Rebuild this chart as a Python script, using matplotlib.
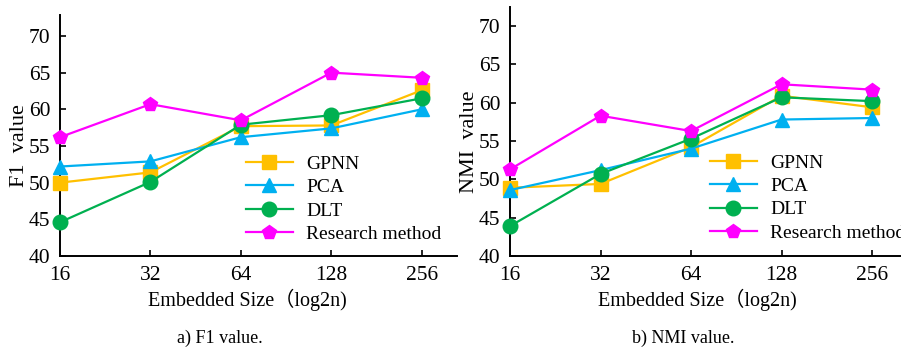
import matplotlib.pyplot as plt

# data
sizes = ["16", "32", "64", "128", "256"]
methods = ["GPNN", "PCA", "DLT", "Research method"]

f1_gpnn = [50.0, 51.4, 57.7, 57.8, 62.6]
f1_pca = [52.2, 52.9, 56.2, 57.4, 60.0]
f1_dlt = [44.6, 50.1, 57.9, 59.2, 61.5]
f1_research = [56.2, 60.7, 58.5, 65.0, 64.3]

nmi_gpnn = [48.9, 49.4, 54.2, 60.9, 59.4]
nmi_pca = [48.6, 51.2, 54.0, 57.8, 58.0]
nmi_dlt = [43.9, 50.7, 55.3, 60.7, 60.2]
nmi_research = [51.3, 58.3, 56.3, 62.4, 61.7]

couleurs = ["#FFC000", "#00B0F0", "#00B050", "#FF00FF"]
marqueurs = ["s", "^", "o", "p"]

plt.rcParams['font.family'] = ['Liberation Serif', 'Noto Sans CJK SC']

W, H = 901, 349
fig = plt.figure(figsize=(9.01, 3.49), dpi=100)


def panneau(rect, series, ylim, xmax, ylabel, label_xy, legend_xy, caption_xy, caption):
    ax = fig.add_axes(rect)
    x = list(range(len(sizes)))
    for vals, nom, c, m in zip(series, methods, couleurs, marqueurs):
        ax.plot(x, vals, color=c, marker=m, markersize=10.5, linewidth=1.6,
                label=nom, clip_on=False, zorder=3)
    ax.set_xlim(0, xmax)
    ax.set_ylim(*ylim)
    ax.set_xticks(x)
    ax.set_xticklabels(sizes)
    ax.set_yticks([40, 45, 50, 55, 60, 65, 70])
    for s in ["top", "right"]:
        ax.spines[s].set_visible(False)
    for s in ["left", "bottom"]:
        ax.spines[s].set_linewidth(1.4)
    ax.tick_params(direction="in", length=4, width=1.2, labelsize=15.5, pad=7)
    ax.set_xlabel("Embedded Size（log2n)", fontsize=14.5)
    ax.xaxis.set_label_coords(label_xy[0][0] / W, 1 - label_xy[0][1] / H,
                              transform=fig.transFigure)
    ax.set_ylabel(ylabel, fontsize=16)
    ax.yaxis.set_label_coords(label_xy[1][0] / W, 1 - label_xy[1][1] / H,
                              transform=fig.transFigure)
    ax.xaxis.label.set_va("center")
    ax.yaxis.label.set_va("center")
    ax.legend(loc="upper left", bbox_to_anchor=(legend_xy[0] / W, 1 - legend_xy[1] / H),
              bbox_transform=fig.transFigure, frameon=False, fontsize=14,
              borderpad=0, borderaxespad=0, handlelength=2.4, handletextpad=0.7,
              labelspacing=0.3)
    fig.text(caption_xy[0] / W, 1 - caption_xy[1] / H, caption, fontsize=13,
             ha="center", va="center")
    return ax


panneau([60 / W, 93 / H, 397 / W, 241 / H],
        [f1_gpnn, f1_pca, f1_dlt, f1_research],
        (40, 72.86), 4.39, "F1  value",
        ((247, 300), (19, 146)), (246, 155), (220, 338), "a) F1 value.")

panneau([510 / W, 93 / H, 391 / W, 249 / H],
        [nmi_gpnn, nmi_pca, nmi_dlt, nmi_research],
        (40, 72.48), 4.32, "NMI  value",
        ((697, 300), (469, 142)), (710, 154), (683, 338), "b) NMI value.")

plt.savefig("out.png", dpi=100)
